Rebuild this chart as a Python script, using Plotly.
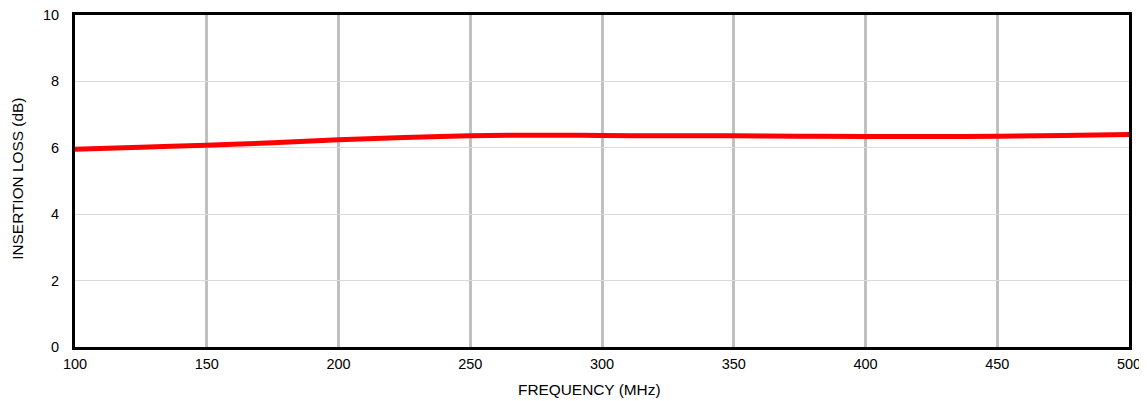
import plotly.graph_objects as go

freq_mhz = [100, 125, 150, 175, 200, 225, 250, 275, 300, 325, 350, 375, 400, 425, 450, 475, 500]
insertion_loss_db = [5.96, 6.02, 6.08, 6.15, 6.24, 6.31, 6.36, 6.38, 6.37, 6.36, 6.36, 6.35, 6.34, 6.34, 6.35, 6.37, 6.40]
x_ticks = [100, 150, 200, 250, 300, 350, 400, 450, 500]
y_ticks = [0, 2, 4, 6, 8, 10]
x_title = "FREQUENCY (MHz)"
y_title = "INSERTION LOSS (dB)"

fig = go.Figure()
fig.add_trace(go.Scatter(x=freq_mhz, y=insertion_loss_db, mode="lines",
                         line=dict(color="#ff0000", width=5, shape="spline"),
                         showlegend=False))

family = "Liberation Sans, Arial, sans-serif"
tickfont = dict(family=family, size=14.5, color="#000000")
titlefont = dict(family=family, size=15.4, color="#000000")
fig.update_layout(
    width=1139, height=393,
    margin=dict(l=67, r=18, t=7, b=54, autoexpand=False),
    paper_bgcolor="white", plot_bgcolor="white",
    font=dict(family=family, size=14, color="#000000"),
    annotations=[
        dict(text=x_title, xref="paper", yref="paper", x=0.488, y=-0.1295,
             xanchor="center", yanchor="middle", showarrow=False, font=titlefont),
        dict(text=y_title, xref="paper", yref="paper", x=-0.0546, y=0.508,
             xanchor="center", yanchor="middle", textangle=-90, showarrow=False,
             font=titlefont),
    ],
)
fig.update_xaxes(range=[100, 500], tickvals=x_ticks, ticks="", showgrid=True,
                 gridcolor="#c0c0c0", gridwidth=2.5, zeroline=False,
                 showline=True, linecolor="black", linewidth=3, mirror=True,
                 ticklabelstandoff=2, ticklabeloverflow="allow",
                 tickfont=tickfont, automargin=False)
fig.update_yaxes(range=[0, 10], tickvals=y_ticks, ticks="", showgrid=True,
                 gridcolor="#d9d9d9", gridwidth=1, zeroline=False,
                 showline=True, linecolor="black", linewidth=3, mirror=True,
                 ticklabelstandoff=10, ticklabeloverflow="allow",
                 tickfont=tickfont, automargin=False)

fig.write_html("out.html")
